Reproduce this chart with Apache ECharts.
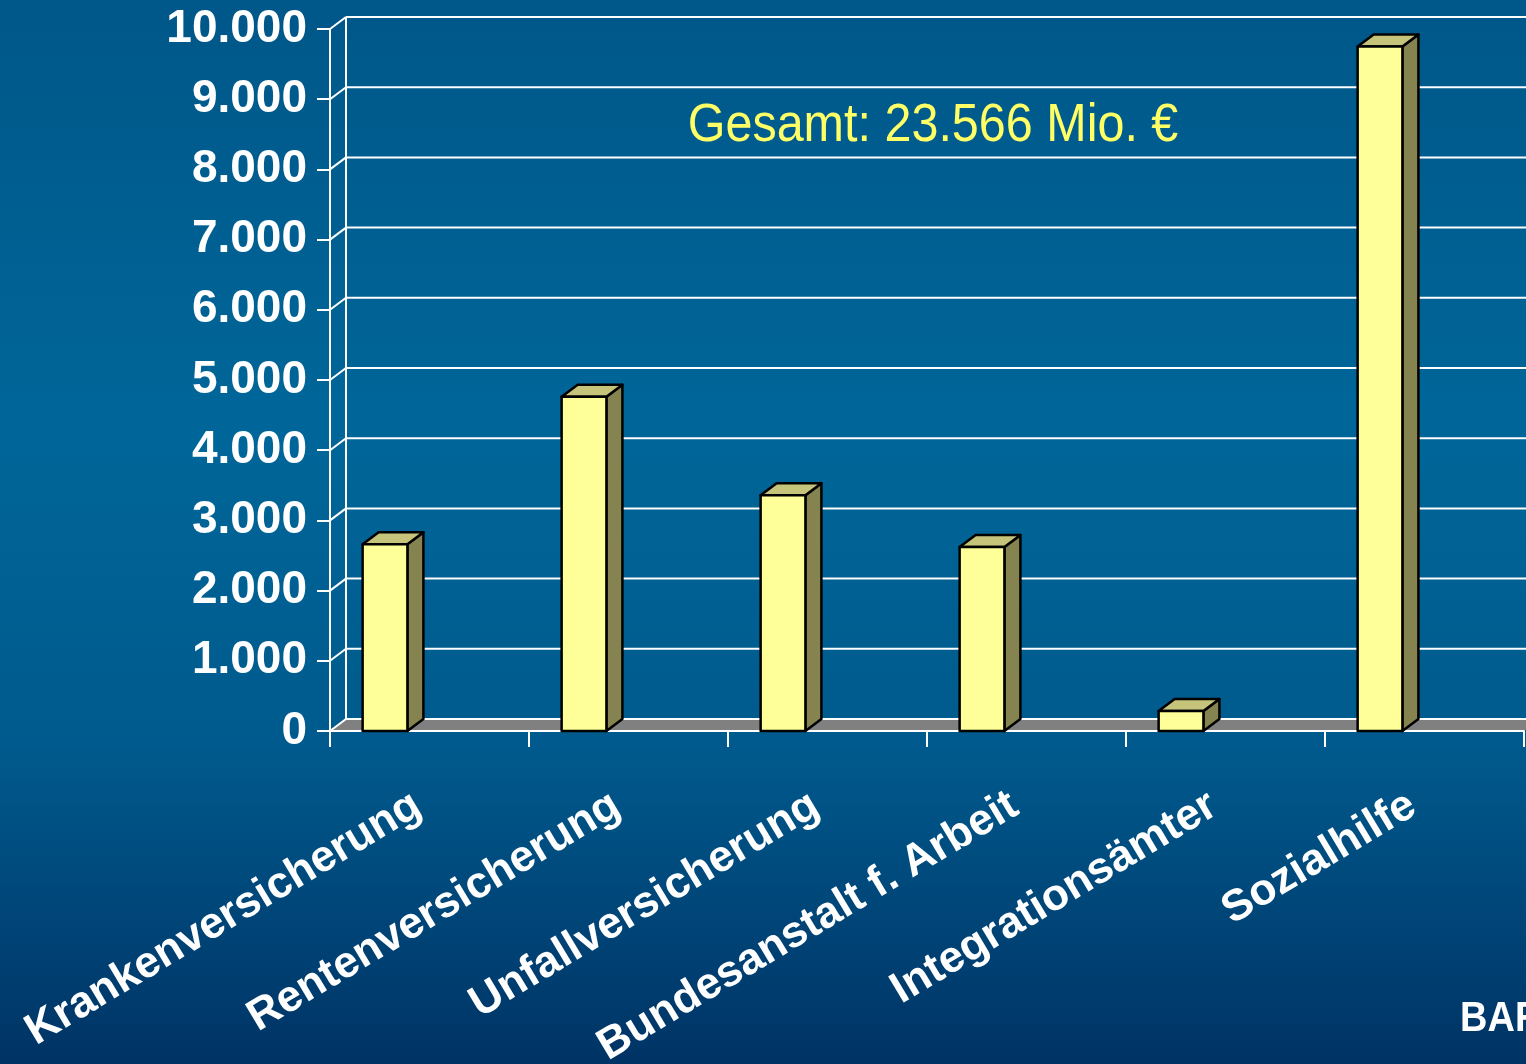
<!DOCTYPE html>
<html>
<head>
<meta charset="utf-8">
<script src="https://cdn.jsdelivr.net/npm/echarts@6/dist/echarts.min.js"></script>
<style>
    html, body { margin: 0; padding: 0; }
    #main { width: 1526px; height: 1064px; }
</style>
</head>
<body>
<div id="main"></div>
<script>
    // Ausgaben je Träger (Mio. €)
    var categories = ['Krankenversicherung', 'Rentenversicherung', 'Unfallversicherung',
        'Bundesanstalt f. Arbeit', 'Integrationsämter', 'Sozialhilfe'];
    var values = [2660, 4760, 3360, 2620, 285, 9750];
    var yTicks = [0, 1000, 2000, 3000, 4000, 5000, 6000, 7000, 8000, 9000, 10000];
    var totalText = 'Gesamt: 23.566 Mio. €';

    var DX = 16, DY = -12; // Tiefe der 3D-Darstellung

    function fmt(v) {
        return String(v).replace(/\B(?=(\d{3})+(?!\d))/g, '.');
    }

    var chart = echarts.init(document.getElementById('main'));

    // Rückwand, Gitterlinien und Boden
    function renderWall(params, api) {
        var cs = params.coordSys;
        var v = api.value(1);
        var y = api.coord([0, v])[1];
        var white = { stroke: '#ffffff', lineWidth: 2 };
        var children = [];
        if (v === 0) {
            children.push({
                type: 'polygon',
                shape: { points: [[cs.x, y], [cs.x + cs.width, y], [cs.x + cs.width + DX, y + DY], [cs.x + DX, y + DY]] },
                style: { fill: '#808080' }
            });
            var yTop = api.coord([0, yTicks[yTicks.length - 1]])[1];
            children.push({
                type: 'line',
                shape: { x1: cs.x + DX, y1: y + DY, x2: cs.x + DX, y2: yTop + DY },
                style: white
            });
        }
        children.push({
            type: 'line',
            shape: { x1: cs.x, y1: y, x2: cs.x + DX, y2: y + DY },
            style: white
        });
        children.push({
            type: 'line',
            shape: { x1: cs.x + DX, y1: y + DY, x2: cs.x + cs.width + DX, y2: y + DY },
            style: white
        });
        return { type: 'group', children: children };
    }

    // Säulen mit Vorderseite, Seite und Deckel
    function renderBar(params, api) {
        var idx = api.value(0);
        var top = api.coord([idx, api.value(1)]);
        var base = api.coord([idx, 0]);
        var bw = api.size([1, 0])[0];
        var l = top[0] - bw * 0.336;
        var r = top[0] - bw * 0.111;
        var t = top[1], b = base[1];
        var edge = { stroke: '#000000', lineWidth: 2.5, lineJoin: 'round' };
        return {
            type: 'group',
            children: [
                {
                    type: 'polygon',
                    shape: { points: [[r, t], [r + DX, t + DY], [r + DX, b + DY], [r, b]] },
                    style: Object.assign({ fill: '#858350' }, edge)
                },
                {
                    type: 'polygon',
                    shape: { points: [[l, t], [l + DX, t + DY], [r + DX, t + DY], [r, t]] },
                    style: Object.assign({ fill: '#c6c47a' }, edge)
                },
                {
                    type: 'rect',
                    shape: { x: l, y: t, width: r - l, height: b - t },
                    style: Object.assign({ fill: '#ffff99' }, edge)
                }
            ]
        };
    }

    chart.setOption({
        backgroundColor: {
            type: 'linear', x: 0, y: 0, x2: 0, y2: 1,
            colorStops: [
                { offset: 0, color: '#005789' },
                { offset: 0.4, color: '#006699' },
                { offset: 0.7, color: '#005a8d' },
                { offset: 1, color: '#003365' }
            ]
        },
        animation: false,
        grid: { left: 330, right: 2, top: 29, bottom: 333, containLabel: false, outerBoundsMode: 'none' },
        xAxis: {
            type: 'category',
            data: categories,
            z: 3,
            axisLine: { show: true, lineStyle: { color: '#ffffff', width: 2 } },
            axisTick: { show: true, length: 16, lineStyle: { color: '#ffffff', width: 2 } },
            axisLabel: {
                rotate: 31,
                margin: 64,
                padding: [0, 14, 0, 0],
                color: '#ffffff',
                fontSize: 44,
                fontWeight: 'bold',
                fontFamily: 'Arial, Liberation Sans, sans-serif',
                interval: 0
            },
            splitLine: { show: false }
        },
        yAxis: {
            type: 'value',
            min: 0,
            max: 10000,
            interval: 1000,
            axisLine: { show: true, lineStyle: { color: '#ffffff', width: 2 } },
            axisTick: { show: true, length: 13, lineStyle: { color: '#ffffff', width: 2 } },
            axisLabel: {
                margin: 23,
                color: '#ffffff',
                fontSize: 46,
                fontWeight: 'bold',
                fontFamily: 'Arial, Liberation Sans, sans-serif',
                formatter: fmt
            },
            splitLine: { show: false }
        },
        graphic: [
            {
                type: 'text',
                x: 933, y: 126,
                scaleY: 1.12,
                style: {
                    text: totalText,
                    fill: '#ffff66',
                    fontSize: 48.5,
                    fontFamily: 'Arial, Liberation Sans, sans-serif',
                    align: 'center',
                    verticalAlign: 'middle'
                }
            },
            {
                type: 'text',
                x: 1460, y: 1019,
                scaleY: 1.12,
                style: {
                    text: 'BAR',
                    fill: '#ffffff',
                    fontSize: 38,
                    fontWeight: 'bold',
                    fontFamily: 'Arial, Liberation Sans, sans-serif',
                    align: 'left',
                    verticalAlign: 'middle'
                }
            }
        ],
        series: [
            {
                name: 'Wand',
                type: 'custom',
                z: 1,
                silent: true,
                renderItem: renderWall,
                data: yTicks.map(function (v) { return [0, v]; })
            },
            {
                name: 'Ausgaben',
                type: 'custom',
                z: 4,
                renderItem: renderBar,
                data: values.map(function (v, i) { return [i, v]; })
            }
        ]
    });
</script>
</body>
</html>
